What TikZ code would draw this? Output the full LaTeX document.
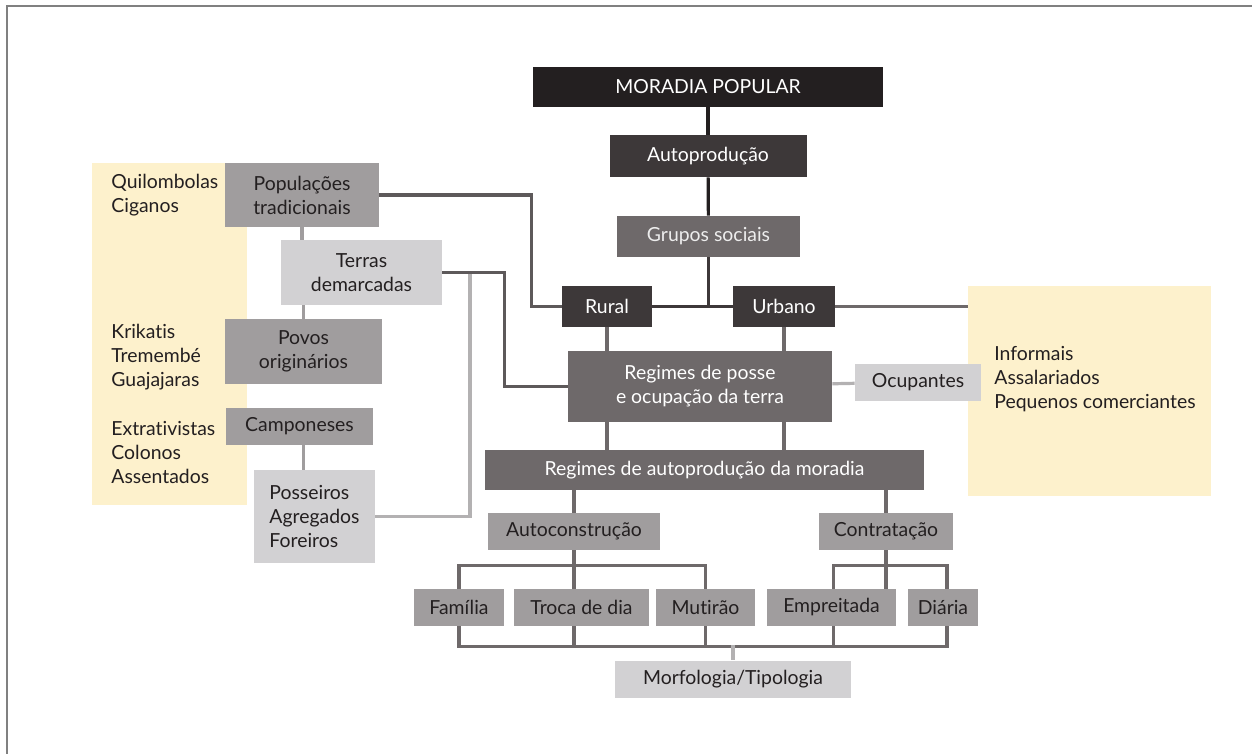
\documentclass[tikz,border=0pt]{standalone}
\usepackage{fontspec}
\setmainfont{Lato}[Ligatures=NoCommon]
\usepackage{tikz}
\usetikzlibrary{positioning}

\definecolor{preto}{HTML}{231F20}
\definecolor{escuro}{HTML}{3D3839}
\definecolor{medio}{HTML}{6E696A}
\definecolor{cinza}{HTML}{A09D9E}
\definecolor{claro}{HTML}{D2D1D3}
\definecolor{linhaclara}{HTML}{B3B1B2}
\definecolor{amarelo}{HTML}{FDF1CC}
\definecolor{moldura}{HTML}{808080}

\begin{document}
\begin{tikzpicture}[x=0.5pt,y=-0.5pt,font=\fontsize{9.7}{12}\selectfont,
	caixa/.style={inner sep=0pt,align=center,minimum height=18.5pt},
	negra/.style={caixa,fill=preto,text=white},
	escura/.style={caixa,fill=escuro,text=white},
	media/.style={caixa,fill=medio,text=white},
	cinzenta/.style={caixa,fill=cinza,text=preto},
	clara/.style={caixa,fill=claro,text=preto},
	lista/.style={inner sep=0pt,align=left,anchor=west,text=preto},
	liga/.style={line width=1.6pt,draw=medio}]
	\useasboundingbox (0,0) rectangle (1252,754);
	\draw[moldura,line width=1pt] (7,754) -- (7,6) -- (1252,6);
	
	% fundos amarelos
	\node[fill=amarelo,minimum width=77.5pt,minimum height=171pt] (grupos_rurais) at (169.5,334) {};
	\node[fill=amarelo,minimum width=121.5pt,minimum height=105pt] (grupos_urbanos) at (1089.5,391) {};
	\node[lista] (quilombolas) at (111,195) {Quilombolas\\Ciganos};
	\node[lista] (indigenas) at (111,357) {Krikatis\\Tremembé\\Guajajaras};
	\node[lista] (extrativistas) at (111,452.5) {Extrativistas\\Colonos\\Assentados};
	\node[lista] (urbanos) at (994,379.5) {Informais\\Assalariados\\Pequenos comerciantes};
	
	% eixo central
	\node[negra,minimum width=175pt,minimum height=20pt] (moradia) at (708,87) {MORADIA POPULAR};
	\node[escura,minimum width=98.5pt,minimum height=21pt] (autoproducao) [below=34.5pt of moradia.center,anchor=center] {Autoprodução};
	\node[media,minimum width=91.5pt,minimum height=20.5pt,text=white!93!black] (grupos) at (708.5,236.5) {Grupos sociais};
	\node[escura,minimum width=45pt,minimum height=20.5pt] (rural) at (607,306.5) {Rural};
	\node[escura,minimum width=51pt,minimum height=20.5pt] (urbano) at (784,306.5) {Urbano};
	\node[media,minimum width=132pt,minimum height=35.5pt] (posse) at (700,386.5) {Regimes de posse\\e ocupação da terra};
	\node[clara,minimum width=63pt] (ocupantes) at (918,382) {Ocupantes};
	\node[media,minimum width=219.5pt,minimum height=20pt] (regimes) at (704.5,470) {Regimes de autoprodução da moradia};
	\node[cinzenta,minimum width=86pt] (autoconstrucao) at (574,531.5) {Autoconstrução};
	\node[cinzenta,minimum width=67pt] (contratacao) at (886,531.5) {Contratação};
	\node[cinzenta,minimum width=45pt] (familia) at (459,607.5) {Família};
	\node[cinzenta,minimum width=67.5pt] (troca) at (581.5,607.5) {Troca de dia};
	\node[cinzenta,minimum width=49.5pt] (mutirao) at (705.5,607.5) {Mutirão};
	\node[cinzenta,minimum width=64.5pt] (empreitada) at (831.5,607.5) {Empreitada};
	\node[cinzenta,minimum width=35pt] (diaria) at (943,607.5) {Diária};
	\node[clara,minimum width=118pt] (morfologia) at (733,679) {Morfologia/Tipologia};
	
	% coluna da esquerda
	\node[cinzenta,minimum width=77pt,minimum height=32pt] (populacoes) at (302,195) {Populações\\tradicionais};
	\node[clara,minimum width=80.5pt,minimum height=32.5pt] (terras) at (361.5,272.5) {Terras\\demarcadas};
	\node[cinzenta,minimum width=78.5pt,minimum height=32.5pt] (povos) at (303.5,351.5) {Povos\\originários};
	\node[cinzenta,minimum width=73.5pt] (camponeses) at (299.5,426.5) {Camponeses};
	\node[clara,minimum width=60.5pt,minimum height=46.5pt,align=left] (posseiros) at (314.5,516.5) {Posseiros\\Agregados\\Foreiros};
	\coordinate (t_1) at (470,272.5);
	
	% ligacoes
	\draw[liga,draw=preto] (moradia) -- (autoproducao);
	\draw[liga,draw=preto] (autoproducao) -- (grupos);
	\draw[liga,draw=escuro] (grupos) -- (grupos |- rural);
	\draw[liga,draw=escuro] (rural) -- (urbano);
	\draw[liga] (urbano) -- (urbano -| grupos_urbanos.west);
	\draw[liga,draw=cinza] (populacoes) -- (populacoes |- terras.north);
	\draw[liga,draw=cinza] (povos) -- (povos |- terras.south);
	\draw[liga,draw=cinza] ([xshift=2pt]camponeses.south) -- ([xshift=2pt]camponeses.south |- posseiros.north);
	\draw[liga,draw=linhaclara] (posseiros.east) -| (t_1);
	\draw[liga,draw=medio!85!black] (populacoes.east) -| ([xshift=-15pt]rural.west) -- (rural.west);
	\draw[liga,draw=medio!85!black] (terras.east) -| ([xshift=-31.5pt]posse.west) -- (posse.west);
	\draw[liga] (rural) -- (rural |- posse.north);
	\draw[liga] (urbano) -- (urbano |- posse.north);
	\draw[liga] (rural |- posse.south) -- (rural |- regimes.north);
	\draw[liga] (urbano |- posse.south) -- (urbano |- regimes.north);
	\draw[liga,draw=linhaclara] (posse) -- (ocupantes);
	\draw[liga] (autoconstrucao) -- (autoconstrucao |- regimes.south);
	\draw[liga] (contratacao) -- (contratacao |- regimes.south);
	\draw[liga] (familia.north) |- ([yshift=11.5pt]mutirao.north) -- (mutirao.north);
	\draw[liga] (autoconstrucao) -- (autoconstrucao |- troca.north);
	\draw[liga] ([xshift=1pt]empreitada.north) |- ([yshift=11.5pt,xshift=2pt]diaria.north) -- ([xshift=2pt]diaria.north);
	\draw[liga] (contratacao) -- (contratacao |- empreitada.north);
	\draw[liga] (familia.south) |- ([yshift=-10pt,xshift=2pt]diaria.south) -- ([xshift=2pt]diaria.south);
	\draw[liga] (autoconstrucao |- troca.south) -- ++(0,-10pt);
	\draw[liga] (mutirao.south) -- ++(0,-10pt);
	\draw[liga] ([xshift=1pt]empreitada.south) -- ++(0,-10pt);
	\draw[liga,draw=linhaclara] (morfologia.north) -- ++(0,7.5pt);
\end{tikzpicture}
\end{document}
